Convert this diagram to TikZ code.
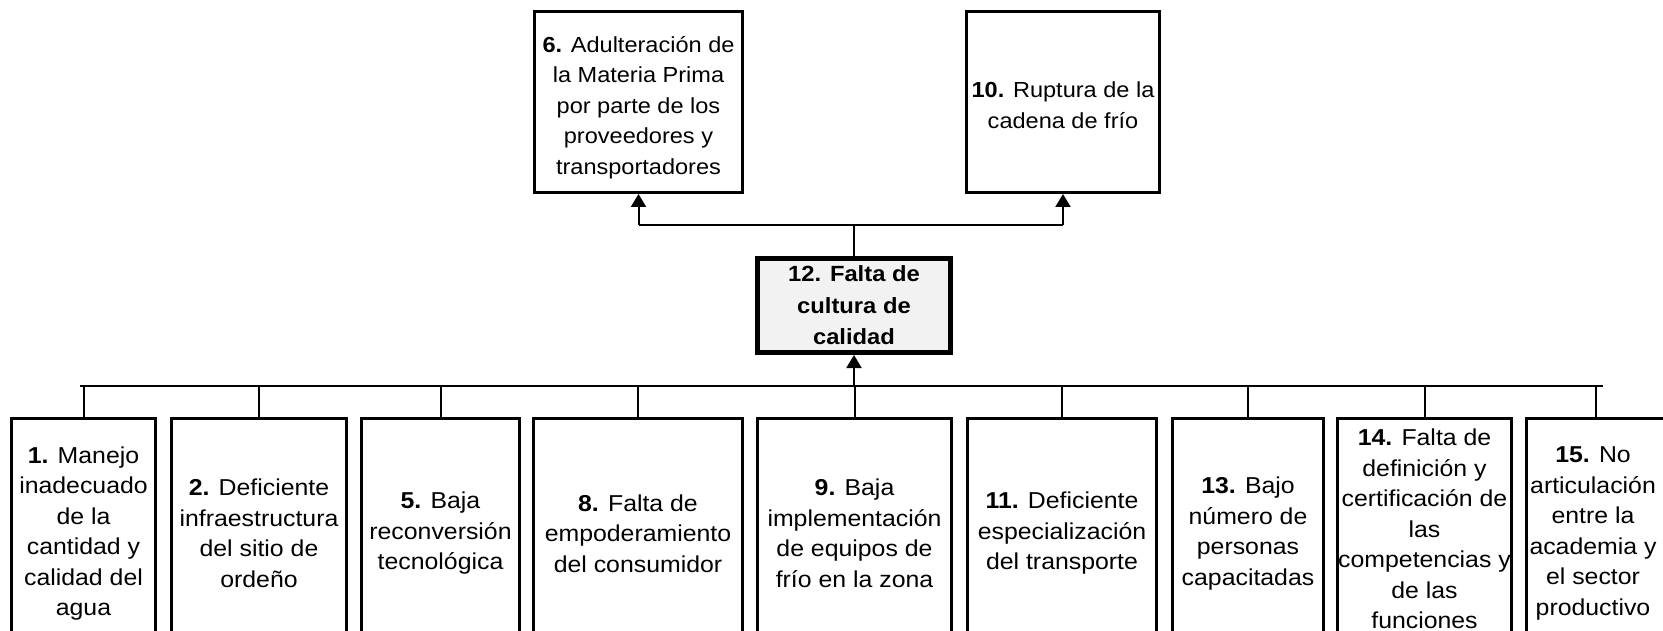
\documentclass[tikz,border=0pt]{standalone}
\usepackage{fontspec}
\setmainfont{Liberation Sans}[FakeStretch=1.08]
\usetikzlibrary{arrows.meta}
\begin{document}
\begin{tikzpicture}[x=1pt,y=-1pt,
  frame/.style={draw, line width=3pt, inner sep=0pt},
  botbox/.style={frame, minimum height=261.5pt},
  topbox/.style={frame, minimum height=181pt},
  txt/.style={inner sep=0pt, align=center},
  bottxt/.style={txt, font=\fontsize{23}{30.5}\selectfont},
  toptxt/.style={txt, font=\fontsize{21.8}{30.5}\selectfont},
  link/.style={line width=2pt},
  arr/.style={link, -{Triangle[width=15pt,length=13pt]}}]
\useasboundingbox (0,0) rectangle (1663,631);
\clip (0,0) rectangle (1663,631);
% top effects
\node[topbox, minimum width=208pt] (n6) at (638.5,102) {};
\node[toptxt] (t6) at (638.5,107.5) {\textbf{6.} Adulteración de\\la Materia Prima\\por parte de los\\proveedores y\\transportadores};
\node[topbox, minimum width=193pt] (n10) at (1063,102) {};
\node[toptxt] (t10) at (1063,105) {\textbf{10.} Ruptura de la\\cadena de frío};
% central problem
\node[frame, line width=5pt, fill=black!5, minimum width=193pt, minimum height=94pt] (n12) at (854,305.5) {};
\node[txt, font=\bfseries\fontsize{22}{31.5}\selectfont] (t12) at (854,305.5) {12. Falta de\\cultura de\\calidad};
% causes (frames run past the lower edge)
\node[botbox, minimum width=144pt] (n1) at (83.5,549.25) {};
\node[botbox, minimum width=175pt] (n2) at (259,549.25) {};
\node[botbox, minimum width=158pt] (n5) at (440.5,549.25) {};
\node[botbox, minimum width=209pt] (n8) at (638,549.25) {};
\node[botbox, minimum width=194pt] (n9) at (854.5,549.25) {};
\node[botbox, minimum width=189pt] (n11) at (1062,549.25) {};
\node[botbox, minimum width=151pt] (n13) at (1248,549.25) {};
\node[botbox, minimum width=174pt] (n14) at (1424.5,549.25) {};
\node[botbox, minimum width=139.5pt] (n15) at (1596.25,549.25) {};
\node[bottxt] (t1) at (83.5,533.5) {\textbf{1.} Manejo\\inadecuado\\de la\\cantidad y\\calidad del\\agua};
\node[bottxt] (t2) at (259,533.5) {\textbf{2.} Deficiente\\infraestructura\\del sitio de\\ordeño};
\node[bottxt] (t5) at (440.5,533.5) {\textbf{5.} Baja\\reconversión\\tecnológica};
\node[bottxt] (t8) at (638,533.5) {\textbf{8.} Falta de\\empoderamiento\\del consumidor};
\node[bottxt] (t9) at (854.5,533.5) {\textbf{9.} Baja\\implementación\\de equipos de\\frío en la zona};
\node[bottxt] (t11) at (1062,533.5) {\textbf{11.} Deficiente\\especialización\\del transporte};
\node[bottxt] (t13) at (1248,533.5) {\textbf{13.} Bajo\\número de\\personas\\capacitadas};
\node[bottxt] (t14) at (1424.5,529) {\textbf{14.} Falta de\\definición y\\certificación de\\las\\competencias y\\de las\\funciones};
\node[bottxt] (t15) at (1593,533.5) {\textbf{15.} No\\articulación\\entre la\\academia y\\el sector\\productivo};
% connector levels
\coordinate (topy) at (0,225);
\coordinate (busy) at (0,386);
\coordinate (busL) at (80,386);
\coordinate (busR) at (1603,386);
% upper connectors
\draw[link] (n12.north) -- (n12.north |- topy);
\draw[link] (n6.south |- topy) -- (n10.south |- topy);
\draw[arr] (n6.south |- topy) -- (n6.south);
\draw[arr] (n10.south |- topy) -- (n10.south);
% lower bus
\draw[link] (busL) -- (busR);
\draw[arr] (n12.south |- busy) -- (n12.south);
\foreach \n in {n1,n2,n5,n8,n9,n11,n13,n14,n15}
  \draw[link] (\n.north) -- (\n.north |- busy);
\end{tikzpicture}
\end{document}
